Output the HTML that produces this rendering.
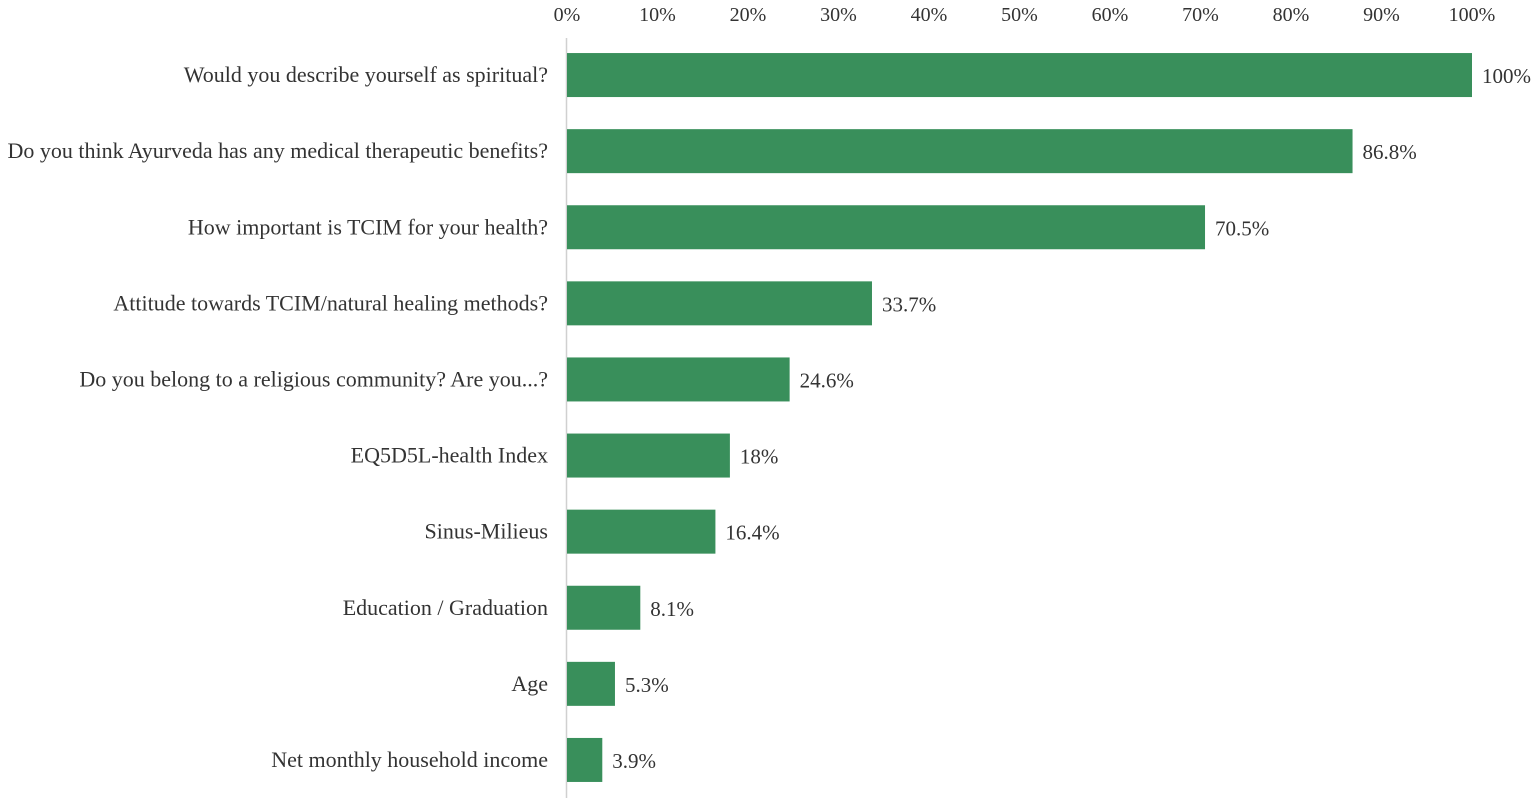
<!DOCTYPE html>
<html><head><meta charset="utf-8"><style>
html,body{margin:0;padding:0;background:#fff;}
svg text{font-family:"Liberation Serif",serif;fill:#333;}
</style></head><body>
<svg id="chart" width="1535" height="803"></svg>
<script>
const categories=["Would you describe yourself as spiritual?","Do you think Ayurveda has any medical therapeutic benefits?","How important is TCIM for your health?","Attitude towards TCIM/natural healing methods?","Do you belong to a religious community? Are you...?","EQ5D5L-health Index","Sinus-Milieus","Education / Graduation","Age","Net monthly household income"];
const values=[100,86.8,70.5,33.7,24.6,18,16.4,8.1,5.3,3.9];
const valueLabels=["100%","86.8%","70.5%","33.7%","24.6%","18%","16.4%","8.1%","5.3%","3.9%"];
const ticks=[0,10,20,30,40,50,60,70,80,90,100];
const tickLabels=["0%","10%","20%","30%","40%","50%","60%","70%","80%","90%","100%"];
const NS="http://www.w3.org/2000/svg";
const svg=document.getElementById('chart');
const x0=567,x1=1472,yTop=38,step=76.1,bandStart=37,barH=44;
const xs=v=>x0+(x1-x0)*v/100;
const yc=i=>bandStart+step*(i+0.5);
function mk(t,a){const e=document.createElementNS(NS,t);for(const k in a)e.setAttribute(k,a[k]);svg.appendChild(e);return e;}
ticks.forEach((t,i)=>{const e=mk('text',{x:xs(t),y:21,'text-anchor':'middle','font-size':20});e.textContent=tickLabels[i];

});
const ax=mk('line',{x1:x0-0.5,x2:x0-0.5,y1:yTop,y2:798,stroke:'#d0d0d0','stroke-width':1.5});


categories.forEach((c,i)=>{
const y=yc(i);
const r=mk('rect',{x:x0,y:y-barH/2,width:xs(values[i])-x0,height:barH,fill:'#398f5b'});


const l=mk('text',{x:548,y:y+7,'text-anchor':'end','font-size':22});l.textContent=c;


const v=mk('text',{x:xs(values[i])+10,y:y+8,'font-size':21});v.textContent=valueLabels[i];


});
</script>
</body></html>
